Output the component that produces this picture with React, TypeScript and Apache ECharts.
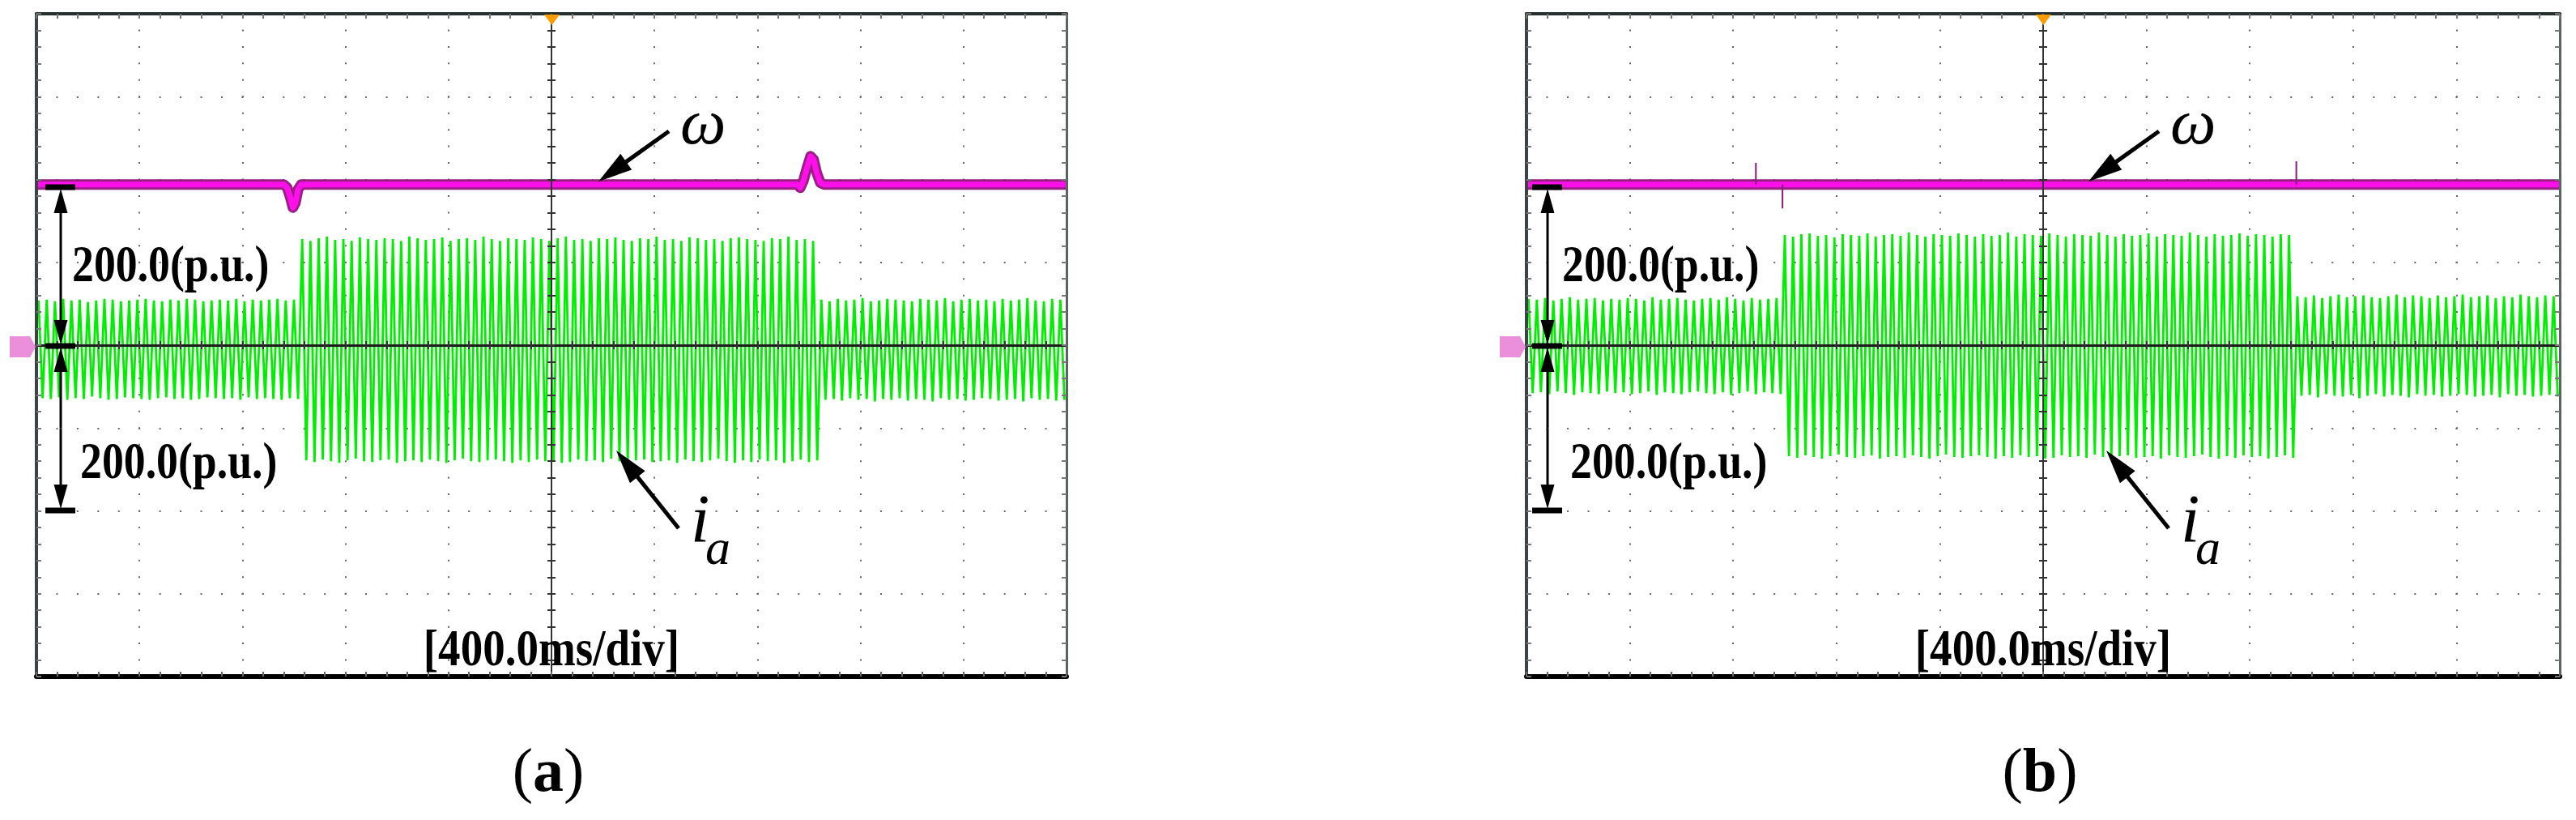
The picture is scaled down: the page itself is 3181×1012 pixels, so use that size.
import React, { useEffect, useRef } from "react";
import * as echarts from "echarts";

// ---------- data ----------
// time axis: ms relative to trigger, 400 ms/div, 10 div
const timeMin = -2000;
const timeMax = 2000;
const timeMajor = 400;
const timeMinor = 80;
// vertical axis: 100 units/div, 8 div
const ampMin = -400;
const ampMax = 400;
const ampMajor = 100;
const ampMinor = 20;

// successive peak / trough samples of i_a are spaced by this many ms
const halfStepMs = 16;

// (a) i_a peaks per cycle
const iaA_peaks = [
  54, 55, 53, 56, 54, 55, 52, 54, 56, 55, 53, 54, 55, 56, 54, 53,
  55, 54, 56, 55, 53, 54, 55, 54, 56, 53, 55, 54, 55, 56, 54, 55,
  128, 126, 129, 131, 127, 128, 126, 130, 128, 127,
  129, 128, 126, 131, 129, 127, 128, 130, 126, 128,
  129, 127, 131, 128, 126, 129, 128, 127, 130, 128,
  126, 129, 131, 127, 128, 126, 129, 128, 130, 127,
  126, 129, 128, 131, 127, 128, 126, 130, 129, 127,
  128, 126, 129, 130, 128, 127, 126, 129, 128, 131,
  127, 128, 126,
  55, 53, 56, 54, 55, 57, 53, 54, 56, 55,
  54, 53, 56, 55, 54, 57, 53, 55, 56, 54,
  55, 53, 56, 54, 55, 57, 54, 53, 56, 55,
];
// (a) i_a troughs per cycle
const iaA_troughs = [
  -64, -65, -63, -66, -64, -65, -62, -64, -66, -65, -63, -64, -65, -66, -64, -63,
  -65, -64, -66, -65, -63, -64, -65, -64, -66, -63, -65, -64, -65, -66, -64, -65,
  -139, -141, -138, -140, -142, -139, -137, -140, -141, -139,
  -138, -142, -140, -139, -141, -138, -140, -142, -139, -137,
  -140, -141, -139, -138, -140, -142, -139, -141, -138, -140,
  -139, -142, -141, -138, -140, -139, -141, -137, -140, -142,
  -139, -138, -141, -140, -139, -142, -138, -140, -141, -139,
  -137, -140, -142, -139, -141, -138, -140, -139, -142, -140,
  -138, -141, -139,
  -66, -65, -67, -64, -66, -65, -68, -65, -66, -64,
  -67, -65, -66, -68, -64, -66, -65, -67, -66, -64,
  -65, -67, -66, -65, -68, -64, -66, -65, -67, -66,
];
// (b) i_a peaks per cycle
const iaB_peaks = [
  56, 55, 57, 54, 56, 58, 55, 56, 57, 54, 56, 55, 57, 56, 54, 58,
  55, 56, 57, 55, 54, 56, 57, 55, 58, 56, 54, 57, 55, 56, 57,
  133, 131, 134, 135, 132, 133, 130, 134, 133, 132,
  135, 131, 133, 134, 132, 136, 133, 131, 134, 133,
  132, 135, 133, 131, 134, 132, 133, 136, 131, 134,
  133, 132, 135, 133, 131, 134, 133, 132, 136, 133,
  131, 134, 132, 133, 135, 131, 134, 133, 132, 136,
  133, 131, 134, 132, 133, 135, 132, 134, 133, 131,
  134, 133,
  59, 58, 60, 57, 59, 61, 58, 59, 60, 58, 57, 59, 61, 58, 60, 59,
  57, 60, 58, 59, 61, 58, 59, 60, 57, 59, 58, 61, 59, 58, 60, 59,
];
// (b) i_a troughs per cycle
const iaB_troughs = [
  -58, -57, -59, -56, -58, -60, -57, -58, -59, -56, -58, -57, -59, -58, -56, -60,
  -57, -58, -59, -57, -56, -58, -59, -57, -60, -58, -56, -59, -57, -58, -59,
  -134, -136, -133, -135, -137, -134, -132, -135, -136, -134,
  -133, -137, -135, -134, -136, -133, -135, -137, -134, -132,
  -135, -136, -134, -133, -135, -137, -134, -136, -133, -135,
  -134, -137, -136, -133, -135, -134, -136, -132, -135, -137,
  -134, -133, -136, -135, -134, -137, -133, -135, -136, -134,
  -132, -135, -137, -134, -136, -133, -135, -134, -137, -135,
  -133, -136,
  -61, -60, -63, -59, -61, -62, -60, -64, -61, -59, -62, -60, -61, -63, -59, -61,
  -60, -62, -61, -59, -60, -62, -61, -60, -63, -59, -61, -60, -62, -61, -60, -62,
];

// ω traces: [time ms, level]
const omegaA: number[][] = [
  [-2000, 194], [-1040, 194], [-1026, 190], [-1014, 178], [-1004, 166], [-994, 172],
  [-984, 188], [-972, 194], [955, 194], [966, 190], [978, 198], [992, 214],
  [1006, 228], [1018, 224], [1030, 208], [1044, 196], [1058, 194], [2000, 194],
];
const omegaB: number[][] = [[-2000, 194], [2000, 194]];
// thin glitches on ω in (b): [time ms, tip level]
const omegaB_spikes: number[][] = [[-1112, 220], [-1009, 165], [980, 222]];
const omegaLevel = 194;

// ---------- layout ----------
const W = 3181;
const H = 1012;
const gridTop = 17;
const gridHeight = 818;

const panels = [
  { left: 45, width: 1272, letter: "a", dimX: 75, peaks: iaA_peaks, troughs: iaA_troughs, omega: omegaA, spikes: [] as number[][] },
  { left: 1885, width: 1276, letter: "b", dimX: 1911, peaks: iaB_peaks, troughs: iaB_troughs, omega: omegaB, spikes: omegaB_spikes },
];

const SERIF = "'Liberation Serif', 'Times New Roman', serif";

function zigzag(peaks: number[], troughs: number[]) {
  const out: number[][] = [];
  for (let k = 0; k < peaks.length; k++) {
    const t0 = timeMin + 2 * k * halfStepMs;
    out.push([t0 + halfStepMs / 2, peaks[k]]);
    if (k < troughs.length) out.push([t0 + halfStepMs * 1.5, troughs[k]]);
  }
  return out;
}

function arrow(x1: number, y1: number, x2: number, y2: number, w: number, headLen: number, headW: number) {
  const dx = x2 - x1, dy = y2 - y1;
  const L = Math.hypot(dx, dy);
  const ux = dx / L, uy = dy / L;
  const bx = x2 - ux * headLen, by = y2 - uy * headLen;
  const px = -uy, py = ux;
  return [
    { type: "line", z: 100, shape: { x1, y1, x2: bx + ux * 3, y2: by + uy * 3 }, style: { stroke: "#000", lineWidth: w } },
    {
      type: "polygon", z: 100,
      shape: { points: [[x2, y2], [bx + (px * headW) / 2, by + (py * headW) / 2], [bx - (px * headW) / 2, by - (py * headW) / 2]] },
      style: { fill: "#000" },
    },
  ];
}

function txt(x: number, y: number, text: string, font: string, align: string, vAlign: string, scaleX = 1, fill = "#000") {
  return {
    type: "text", z: 110, x, y, scaleX,
    style: { text, font, fill, align, verticalAlign: vAlign, textAlign: align, textVerticalAlign: vAlign },
  };
}

function buildOption() {
  const grid: any[] = [];
  const xAxis: any[] = [];
  const yAxis: any[] = [];
  const series: any[] = [];
  const graphic: any[] = [];

  panels.forEach((p, g) => {
    grid.push({ left: p.left, top: gridTop, width: p.width, height: gridHeight, show: false });
    const minorXpx = p.width / 50;
    const minorYpx = gridHeight / 40;
    const xb = {
      type: "value", gridIndex: g, min: timeMin, max: timeMax,
      axisLabel: { show: false }, splitLine: { show: false }, axisTick: { show: false },
      axisLine: { show: false, onZero: false },
    };
    // 0: dotted vertical graticule
    xAxis.push({ ...xb, interval: timeMajor, splitLine: { show: true, lineStyle: { color: "#666", width: 2, type: [2, minorYpx - 2], dashOffset: 1 } } });
    // 1: bottom border
    xAxis.push({ ...xb, position: "bottom", interval: timeMinor, z: 6,
      axisLine: { show: true, onZero: false, lineStyle: { color: "#000", width: 6 } },
      axisTick: { show: true, inside: true, length: 6, lineStyle: { color: "#666", width: 2 } } });
    // 2: top border
    xAxis.push({ ...xb, position: "top", interval: timeMinor, z: 6,
      axisLine: { show: true, onZero: false, lineStyle: { color: "#262e2e", width: 4 } },
      axisTick: { show: true, inside: true, length: 6, lineStyle: { color: "#777", width: 2 } } });
    // 3,4: horizontal centre line with crossing ticks
    xAxis.push({ ...xb, position: "bottom", interval: timeMinor, z: 5,
      axisLine: { show: true, onZero: true, lineStyle: { color: "#1c1c1c", width: 3 } },
      axisTick: { show: true, inside: true, length: 5, lineStyle: { color: "#333", width: 2 } } });
    xAxis.push({ ...xb, position: "bottom", interval: timeMinor, z: 5,
      axisLine: { show: true, onZero: true, lineStyle: { color: "#1c1c1c", width: 3 } },
      axisTick: { show: true, inside: false, length: 5, lineStyle: { color: "#333", width: 2 } } });

    const yb = {
      type: "value", gridIndex: g, min: ampMin, max: ampMax,
      axisLabel: { show: false }, splitLine: { show: false }, axisTick: { show: false },
      axisLine: { show: false, onZero: false },
    };
    // 0: dotted horizontal graticule
    yAxis.push({ ...yb, interval: ampMajor, splitLine: { show: true, lineStyle: { color: "#666", width: 2, type: [2, minorXpx - 2], dashOffset: 1 } } });
    // 1: left border
    yAxis.push({ ...yb, position: "left", interval: ampMinor, z: 6,
      axisLine: { show: true, onZero: false, lineStyle: { color: "#3a4444", width: 4 } },
      axisTick: { show: true, inside: true, length: 6, lineStyle: { color: "#777", width: 2 } } });
    // 2: right border
    yAxis.push({ ...yb, position: "right", interval: ampMinor, z: 6,
      axisLine: { show: true, onZero: false, lineStyle: { color: "#5a6262", width: 3 } },
      axisTick: { show: true, inside: true, length: 6, lineStyle: { color: "#777", width: 2 } } });
    // 3,4: vertical centre line with crossing ticks
    yAxis.push({ ...yb, position: "left", interval: ampMinor, z: 5,
      axisLine: { show: true, onZero: true, lineStyle: { color: "#333", width: 2 } },
      axisTick: { show: true, inside: true, length: 5, lineStyle: { color: "#333", width: 2 } } });
    yAxis.push({ ...yb, position: "left", interval: ampMinor, z: 5,
      axisLine: { show: true, onZero: true, lineStyle: { color: "#333", width: 2 } },
      axisTick: { show: true, inside: false, length: 5, lineStyle: { color: "#333", width: 2 } } });

    const xi = g * 5, yi = g * 5;
    series.push({
      type: "line", name: "i_a", xAxisIndex: xi, yAxisIndex: yi, data: zigzag(p.peaks, p.troughs),
      symbol: "none", showSymbol: false, silent: true, z: 3,
      lineStyle: { color: "#00ee00", width: 2.8 },
    });
    series.push({
      type: "line", name: "ω halo", xAxisIndex: xi, yAxisIndex: yi, data: p.omega,
      symbol: "none", showSymbol: false, silent: true, z: 3,
      lineStyle: { color: "#9a1f84", width: 13, join: "round", cap: "butt" },
    });
    series.push({
      type: "line", name: "ω", xAxisIndex: xi, yAxisIndex: yi, data: p.omega,
      symbol: "none", showSymbol: false, silent: true, z: 4,
      lineStyle: { color: "#ff10ea", width: 7, join: "round", cap: "butt" },
    });
    if (p.spikes.length) {
      const sp: any[] = [];
      p.spikes.forEach(([t, v]) => { sp.push([t, omegaLevel], [t, v], [t, "-"]); });
      series.push({
        type: "line", name: "ω glitch", xAxisIndex: xi, yAxisIndex: yi, data: sp,
        symbol: "none", showSymbol: false, silent: true, z: 4, connectNulls: false,
        lineStyle: { color: "#8a1a76", width: 2 },
      });
    }

    // ---- decorations ----
    const L = p.left;
    const C = p.left + p.width / 2;
    // trigger marker
    graphic.push({ type: "polygon", z: 120, shape: { points: [[C - 9, 18], [C + 10, 18], [C + 0.5, 31]] }, style: { fill: "#ff9d00" } });
    // channel marker "3"
    const mx = L - 33;
    graphic.push({ type: "polygon", z: 120, shape: { points: [[mx, 415], [mx + 25, 415], [mx + 32, 428], [mx + 25, 441], [mx, 441]] }, style: { fill: "#ec8fdb" } });
    graphic.push(txt(mx + 13, 429, "3", `22px 'DejaVu Sans', sans-serif`, "center", "middle", 1, "#7a7a7a"));
    // dimension arrows
    const dx = p.dimX;
    const yTop = 231, yMid = 427, yBot = 630;
    [yTop, yMid, yBot].forEach((yy) => graphic.push({ type: "line", z: 100, shape: { x1: dx - 19, y1: yy, x2: dx + 18, y2: yy }, style: { stroke: "#000", lineWidth: 7 } }));
    graphic.push(...arrow(dx, (yTop + yMid) / 2, dx, yTop + 2, 3, 30, 17));
    graphic.push(...arrow(dx, (yTop + yMid) / 2, dx, yMid - 2, 3, 30, 17));
    graphic.push(...arrow(dx, (yMid + yBot) / 2, dx, yMid + 2, 3, 30, 17));
    graphic.push(...arrow(dx, (yMid + yBot) / 2, dx, yBot - 2, 3, 30, 17));
    const bold = `bold 64px ${SERIF}`;
    graphic.push(txt(L + 44, 325, "200.0(p.u.)", bold, "left", "middle", 0.84));
    graphic.push(txt(L + 54, 568, "200.0(p.u.)", bold, "left", "middle", 0.84));
    graphic.push(txt(C, 800, "[400.0ms/div]", bold, "center", "middle", 0.86));
    // ω label + arrow
    graphic.push(...arrow(L + 781, 162, L + 694, 224, 5, 42, 24));
    graphic.push(txt(L + 795, 190, "ω", `italic 80px ${SERIF}`, "left", "bottom"));
    // i_a label + arrow
    graphic.push(...arrow(L + 793, 652, L + 716, 556, 5, 42, 24));
    graphic.push(txt(L + 808, 682, "i", `italic 84px ${SERIF}`, "left", "bottom"));
    graphic.push(txt(L + 826, 706, "a", `italic 62px ${SERIF}`, "left", "bottom"));
    // sub-figure letter
    graphic.push({
      type: "text", z: 110, x: C - 4, y: 950,
      style: {
        text: "{p|(}{b|" + p.letter + "}{p|)}", align: "center", verticalAlign: "middle", textAlign: "center", textVerticalAlign: "middle",
        rich: { p: { font: `76px ${SERIF}`, fill: "#000" }, b: { font: `bold 76px ${SERIF}`, fill: "#000" } },
      },
    });
  });

  return { animation: false, backgroundColor: "#fff", grid, xAxis, yAxis, series, graphic };
}

export default function App() {
  const ref = useRef<HTMLDivElement>(null);
  useEffect(() => {
    document.body.style.margin = "0";
    if (!ref.current) return;
    const chart = echarts.init(ref.current, undefined, { renderer: "svg", width: W, height: H });
    chart.setOption(buildOption() as any);
    return () => chart.dispose();
  }, []);
  return <div ref={ref} style={{ width: W, height: H, background: "#fff" }} />;
}
